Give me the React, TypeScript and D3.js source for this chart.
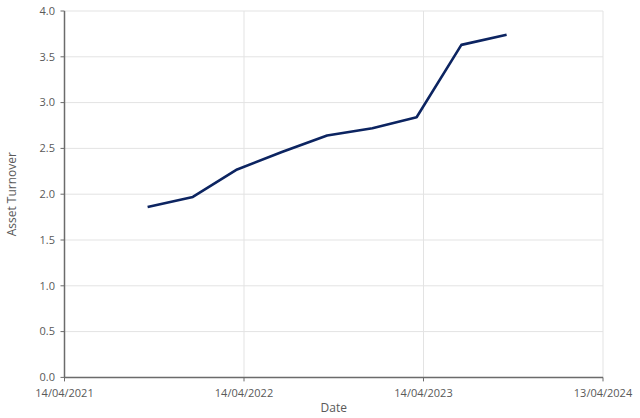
import React from "react";
import * as d3 from "d3";

const dates = ["2021-09-30","2021-12-31","2022-03-31","2022-06-30","2022-09-30","2022-12-31","2023-03-31","2023-06-30","2023-09-30"];
const values = [1.86, 1.97, 2.27, 2.46, 2.64, 2.72, 2.84, 3.63, 3.74];
const xTicks = ["2021-04-14","2022-04-14","2023-04-14","2024-04-13"];
const xTickLabels = ["14/04/2021","14/04/2022","14/04/2023","13/04/2024"];
const yTicks = [0, 0.5, 1, 1.5, 2, 2.5, 3, 3.5, 4];

const W = 640, H = 418;
const parse = d3.utcParse("%Y-%m-%d");

export default function App() {
  const x = d3.scaleUtc()
    .domain([parse(xTicks[0])!, parse(xTicks[3])!])
    .range([64.5, 603]);
  const y = d3.scaleLinear().domain([0, 4]).range([377.4, 11]);
  const line = d3.line<number>()
    .x((_, i) => x(parse(dates[i])!))
    .y((v) => y(v));
  const font = "'Open Sans', sans-serif";
  const txt = "#595959";
  return (
    <svg width={W} height={H} style={{ position: "absolute", left: 0, top: 0, background: "#fff" }}>
      {yTicks.map((t) => (
        <line key={"gy" + t} x1={x.range()[0]} x2={x.range()[1]} y1={y(t)} y2={y(t)} stroke="#e3e3e3" strokeWidth={1} />
      ))}
      {xTicks.map((t) => (
        <line key={"gx" + t} x1={x(parse(t)!)} x2={x(parse(t)!)} y1={y(0)} y2={y(4)} stroke="#e3e3e3" strokeWidth={1} />
      ))}
      <path d={line(values) || ""} fill="none" stroke="#0c2461" strokeWidth={2.6} strokeLinejoin="round" />
      <line x1={x.range()[0]} x2={x.range()[0]} y1={y(0)} y2={y(4)} stroke="#6b6b6b" strokeWidth={1.5} />
      <line x1={x.range()[0]} x2={x.range()[1]} y1={y(0)} y2={y(0)} stroke="#6b6b6b" strokeWidth={1.5} />
      {yTicks.map((t) => (
        <g key={"ty" + t}>
          <line x1={x.range()[0] - 4} x2={x.range()[0]} y1={y(t)} y2={y(t)} stroke="#6b6b6b" strokeWidth={1} />
          <text x={55} y={y(t)} dy="0.35em" textAnchor="end" fontFamily={font} fontSize={11} fill={txt}>{t.toFixed(1)}</text>
        </g>
      ))}
      {xTicks.map((t, i) => (
        <g key={"tx" + t}>
          <line x1={x(parse(t)!)} x2={x(parse(t)!)} y1={y(0)} y2={y(0) + 4} stroke="#6b6b6b" strokeWidth={1} />
          <text x={x(parse(t)!)} y={397} textAnchor="middle" fontFamily={font} fontSize={11} fill={txt}>{xTickLabels[i]}</text>
        </g>
      ))}
      <text x={(x.range()[0] + x.range()[1]) / 2} y={412} textAnchor="middle" fontFamily={font} fontSize={12} fill={txt}>Date</text>
      <text transform={`translate(16,${(y(0) + y(4)) / 2}) rotate(-90)`} textAnchor="middle" fontFamily={font} fontSize={12} fill={txt}>Asset Turnover</text>
    </svg>
  );
}
